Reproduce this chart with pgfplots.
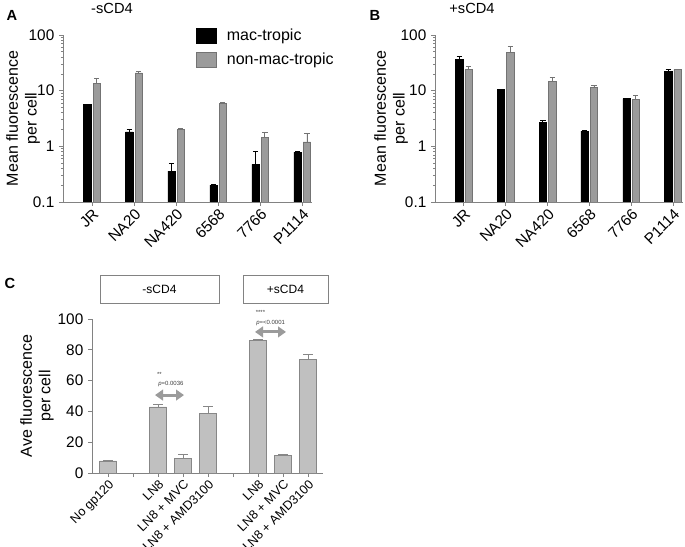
\documentclass[border=0pt]{standalone}
\usepackage{fontspec}
\setmainfont{Liberation Sans}
\usepackage{pgfplots}
\pgfplotsset{compat=1.18}
\usepackage{pgfplotstable}
\usetikzlibrary{arrows.meta}
\pgfkeys{/pgf/number format/assume math mode=true}

\definecolor{axgray}{RGB}{130,130,130}
\definecolor{midgray}{RGB}{155,155,155}
\definecolor{midedge}{RGB}{115,115,115}
\definecolor{lightbar}{RGB}{192,192,192}
\definecolor{lightedge}{RGB}{135,135,135}

% panel A: -sCD4
\pgfplotstableread{
x black blackerr grey greyerr
0 5.6  0.15 13.4 3.0
1 1.81 0.18 20.8 1.2
2 0.36 0.14 2.0  0.1
3 0.20 0.01 6.0  0.2
4 0.475 0.345 1.47 0.29
5 0.79 0.02 1.2  0.54
}\minusCD

% panel B: +sCD4
\pgfplotstableread{
x black blackerr grey greyerr
0 36   5.0  24   3.6
1 10.5 0.2  48   15
2 2.7  0.25 14.8 2.2
3 1.87 0.03 11.3 1.0
4 7.2  0.1  6.9  1.3
5 21.9 2.1  24   0.3
}\plusCD

% panel C
\pgfplotstableread{
x val err
0 7.8  0.2
2 43.0 1.8
3 9.3  2.9
4 38.7 4.3
6 86.1 0.4
7 11.5 0.5
8 73.9 3.3
}\aveCD

\pgfplotsset{
  every axis/.append style={
    scale only axis,
    axis lines*=left,
    axis line style={axgray, line width=0.6pt},
    tick style={axgray, line width=0.6pt},
    tick align=outside,
    major tick length=3pt,
    minor tick length=1.5pt,
    tick label style={font=\fontsize{11.5}{13}\selectfont, text=black},
    label style={font=\fontsize{12}{14}\selectfont},
  },
  boxlegend/.style={
    legend image code/.code={\draw[##1] (0pt,-5.5pt) rectangle (15.5pt,5.5pt);
      \path (21pt,0pt);}},
}

\begin{document}
\begin{tikzpicture}
\useasboundingbox (0,0) rectangle (513.75pt,409.5pt);

% ---- A ----
\begin{axis}[at={(47.25pt,258pt)},
  width=187pt, height=125.25pt,
  ymode=log, log origin=infty,
  ymin=0.1, ymax=100,
  ytick={0.1,1,10,100}, yticklabels={0.1,1,10,100},
  xmin=-0.69, xmax=5.24,
  xtick={0,...,5}, xticklabels={JR,NA20,NA420,6568,7766,P1114},
  xticklabel style={rotate=45, anchor=north east, inner sep=1pt},
  ybar=1.5pt, bar width=5.5pt,
  ylabel={Mean fluorescence\\per cell},
  ylabel style={align=center, at={(axis description cs:-0.16,0.5)}, anchor=center},
  legend style={at={(axis description cs:0.515,1.07)}, anchor=north west,
    draw=none, fill=none, font=\fontsize{12}{14}\selectfont, row sep=4pt},
  legend cell align=left,
  boxlegend,
]
\addplot[fill=black, draw=black,
  error bars/.cd, y dir=plus, y explicit,
  error bar style={black, line width=0.6pt},
  error mark options={rotate=90, mark size=2pt, black, line width=0.6pt}]
  table[x=x, y=black, y error=blackerr] {\minusCD};
\addplot[fill=midgray, draw=midedge,
  error bars/.cd, y dir=plus, y explicit,
  error bar style={midedge, line width=0.6pt},
  error mark options={rotate=90, mark size=2pt, midedge, line width=0.6pt}]
  table[x=x, y=grey, y error=greyerr] {\minusCD};
\legend{mac-tropic, non-mac-tropic}
\end{axis}

% ---- B ----
\begin{axis}[at={(326.25pt,258pt)},
  width=186pt, height=125.25pt,
  ymode=log, log origin=infty,
  ymin=0.1, ymax=100,
  ytick={0.1,1,10,100}, yticklabels={0.1,1,10,100},
  xmin=-0.69, xmax=5.24,
  xtick={0,...,5}, xticklabels={JR,NA20,NA420,6568,7766,P1114},
  xticklabel style={rotate=45, anchor=north east, inner sep=1pt},
  ybar=1.5pt, bar width=5.5pt,
  ylabel={Mean fluorescence\\per cell},
  ylabel style={align=center, at={(axis description cs:-0.177,0.5)}, anchor=center},
]
\addplot[fill=black, draw=black,
  error bars/.cd, y dir=plus, y explicit,
  error bar style={black, line width=0.6pt},
  error mark options={rotate=90, mark size=2pt, black, line width=0.6pt}]
  table[x=x, y=black, y error=blackerr] {\plusCD};
\addplot[fill=midgray, draw=midedge,
  error bars/.cd, y dir=plus, y explicit,
  error bar style={midedge, line width=0.6pt},
  error mark options={rotate=90, mark size=2pt, midedge, line width=0.6pt}]
  table[x=x, y=grey, y error=greyerr] {\plusCD};
\end{axis}

% ---- C ----
\begin{axis}[at={(69pt,54.75pt)},
  width=173.25pt, height=115.5pt,
  xmin=-0.64, xmax=8.6, ymin=0, ymax=100,
  ytick={0,20,...,100},
  xtick={0,...,8},
  xticklabels={No gp120,,LN8,LN8 + MVC,LN8 + AMD3100,,LN8,LN8 + MVC,LN8 + AMD3100},
  xticklabel style={rotate=45, anchor=north east, inner sep=1pt, font=\fontsize{9.5}{10}\selectfont},
  ybar, bar width=13pt,
  clip=false,
  ylabel={Ave fluorescence\\per cell},
  ylabel style={align=center, at={(axis description cs:-0.238,0.5)}, anchor=center},
]
\addplot[fill=lightbar, draw=lightedge,
  error bars/.cd, y dir=plus, y explicit,
  error bar style={lightedge, line width=0.6pt},
  error mark options={rotate=90, mark size=3.5pt, lightedge, line width=0.6pt}]
  table[x=x, y=val, y error=err] {\aveCD};
% significance annotations
\draw[{Triangle[width=8pt,length=6pt]}-{Triangle[width=8pt,length=6pt]}, line width=2.2pt, draw=midgray]
  (axis cs:1.88,50.6) -- (axis cs:3.04,50.6);
\node[font=\fontsize{4.5}{5}\selectfont, text=darkgray, anchor=west, inner sep=0pt] at (axis cs:1.95,64.3) {**};
\node[font=\fontsize{4.5}{5}\selectfont, text=darkgray, anchor=west, inner sep=0pt] at (axis cs:2.0,57.8) {\textit{p}=0.0036};
\draw[{Triangle[width=8pt,length=6pt]}-{Triangle[width=8pt,length=6pt]}, line width=2.2pt, draw=midgray]
  (axis cs:5.88,91.6) -- (axis cs:7.12,91.6);
\node[font=\fontsize{4.5}{5}\selectfont, text=darkgray, anchor=west, inner sep=0pt] at (axis cs:5.9,104.5) {****};
\node[font=\fontsize{4.5}{5}\selectfont, text=darkgray, anchor=west, inner sep=0pt] at (axis cs:5.92,97.4) {\textit{p}=<0.0001};
\end{axis}

% panel letters and titles
\node[font=\bfseries\fontsize{11}{12}\selectfont] at (9pt,398.25pt) {A};
\node[font=\fontsize{11}{12}\selectfont] at (84pt,403.5pt) {-sCD4};
\node[font=\bfseries\fontsize{11}{12}\selectfont] at (281.25pt,398.25pt) {B};
\node[font=\fontsize{11}{12}\selectfont] at (354pt,403.5pt) {+sCD4};
\node[font=\bfseries\fontsize{11}{12}\selectfont] at (7.5pt,197.25pt) {C};

% condition boxes of panel C
\draw[axgray, line width=0.6pt] (75pt,182.25pt) rectangle (164.25pt,203.25pt);
\node[font=\fontsize{9}{10}\selectfont] at (119.6pt,192.75pt) {-sCD4};
\draw[axgray, line width=0.6pt] (182.25pt,182.25pt) rectangle (246pt,203.25pt);
\node[font=\fontsize{9}{10}\selectfont] at (214.1pt,192.75pt) {+sCD4};
\end{tikzpicture}
\end{document}
